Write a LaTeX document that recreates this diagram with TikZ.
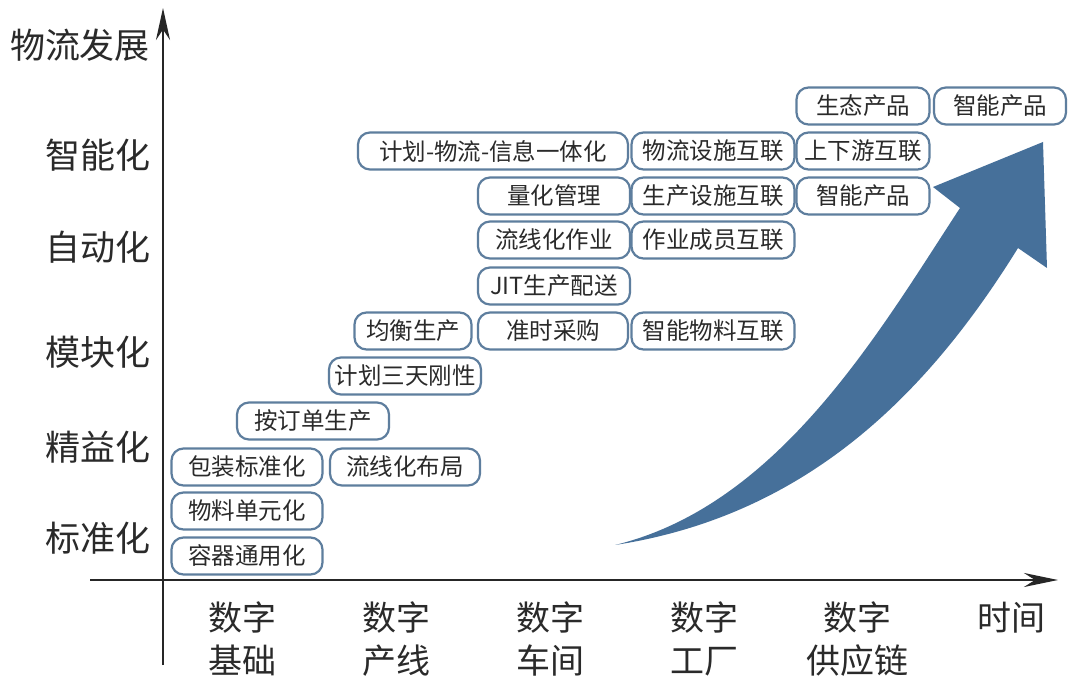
\documentclass[tikz,border=0pt]{standalone}
\usepackage{fontspec}
\setmainfont{Noto Sans CJK SC}
\newfontfamily\cjk{Noto Sans CJK SC}
\usetikzlibrary{arrows.meta}
\definecolor{boxline}{HTML}{5E7E9E}
\definecolor{arrowblue}{HTML}{46709A}
\definecolor{txt}{HTML}{2A2A2A}
\tikzset{
  item/.style={draw=boxline, line width=2.2pt, rounded corners=12pt, fill=white,
    minimum height=37pt, inner sep=0pt, text=txt, font=\cjk\fontsize{23.5}{27}\selectfont},
  ylab/.style={text=txt, font=\cjk\fontsize{35}{40}\selectfont, inner sep=0pt},
  xlab/.style={text=txt, font=\cjk\fontsize{34}{43}\selectfont, inner sep=0pt, align=center},
  axis/.style={line width=2.4pt, black!85}
}
\begin{document}
\begin{tikzpicture}[x=1pt,y=-1pt]
\useasboundingbox (0,0) rectangle (1080,700);
\fill[white] (0,0) rectangle (1080,700);
% axes
\coordinate (ybot) at (163,665);
\coordinate (ytop) at (163,8);
\coordinate (xl) at (90,580);
\coordinate (xr) at (1058,580);
\draw[axis,-{Stealth[length=32pt,width=14pt]}] (ybot) -- (ytop);
\draw[axis,-{Stealth[length=34pt,width=14pt]}] (xl) -- (xr);
% big arrow
\fill[arrowblue] (615,545) .. controls (780,505) and (880,330) .. (960,208)
  -- (933,187) -- (1043,142) -- (1047,268) -- (1018,248)
  .. controls (930,390) and (810,515) .. (615,545) -- cycle;
% y labels
\node[ylab] (yl0) at (80,45) {物流发展};
\node[ylab] (yl1) at (98,155) {智能化};
\node[ylab] (yl2) at (98,247) {自动化};
\node[ylab] (yl3) at (98,352) {模块化};
\node[ylab] (yl4) at (98,447) {精益化};
\node[ylab] (yl5) at (98,538) {标准化};
% x labels
\node[xlab,anchor=north] (xa) at (242,602) {数字\\基础};
\node[xlab,anchor=north] (xb) at (396,602) {数字\\产线};
\node[xlab,anchor=north] (xc) at (550,602) {数字\\车间};
\node[xlab,anchor=north] (xd) at (704,602) {数字\\工厂};
\node[xlab,anchor=north] (xe) at (857,602) {数字\\供应链};
\node[xlab,anchor=north] (xf) at (1011,602) {时间};
% boxes
\node[item,minimum width=151pt] (b1) at (247,556) {容器通用化};
\node[item,minimum width=151pt] (b2) at (247,511) {物料单元化};
\node[item,minimum width=151pt] (b3) at (247,467) {包装标准化};
\node[item,minimum width=150pt] (b4) at (405,467) {流线化布局};
\node[item,minimum width=152pt] (b5) at (313,421) {按订单生产};
\node[item,minimum width=152pt] (b6) at (405,376) {计划三天刚性};
\node[item,minimum width=117pt] (b7) at (413,331) {均衡生产};
\node[item,minimum width=150pt] (b8) at (553,331) {准时采购};
\node[item,minimum width=163pt] (b9) at (713,331) {智能物料互联};
\node[item,minimum width=152pt] (b10) at (554,286) {JIT生产配送};
\node[item,minimum width=152pt] (b11) at (554,240) {流线化作业};
\node[item,minimum width=163pt] (b12) at (713,240) {作业成员互联};
\node[item,minimum width=152pt] (b13) at (554,196) {量化管理};
\node[item,minimum width=163pt] (b14) at (713,196) {生产设施互联};
\node[item,minimum width=133pt] (b15) at (863,196) {智能产品};
\node[item,minimum width=270pt] (b16) at (493,151) {计划-物流-信息一体化};
\node[item,minimum width=163pt] (b17) at (713,151) {物流设施互联};
\node[item,minimum width=133pt] (b18) at (863,151) {上下游互联};
\node[item,minimum width=133pt] (b19) at (863,106) {生态产品};
\node[item,minimum width=132pt] (b20) at (1000,106) {智能产品};
\end{tikzpicture}
\end{document}
